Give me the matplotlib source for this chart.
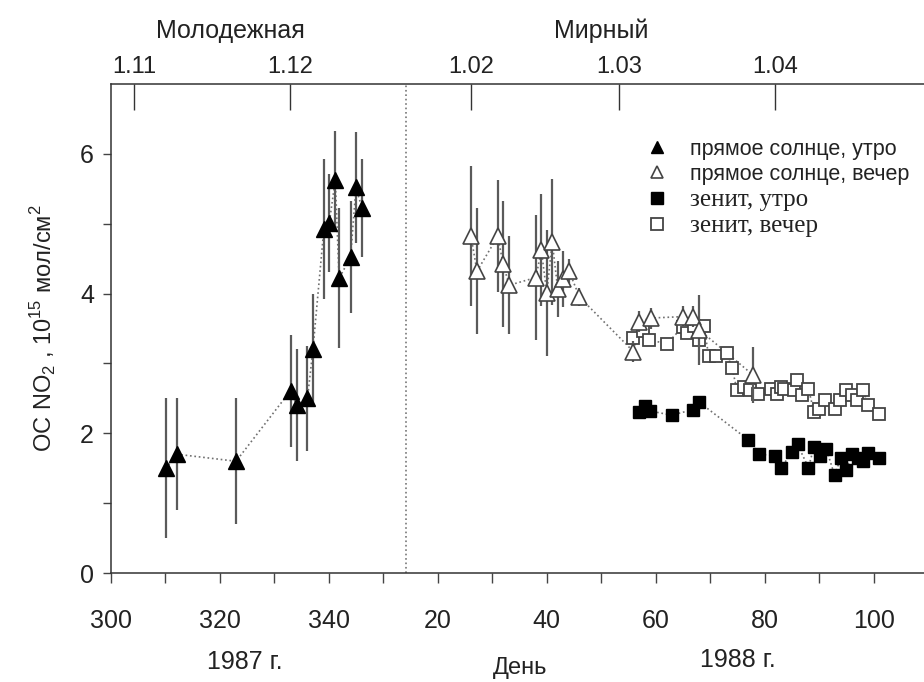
import matplotlib.pyplot as plt
from matplotlib.lines import Line2D
from matplotlib.ticker import MultipleLocator, FixedLocator

plt.rcParams['font.family'] = ['Liberation Sans', 'DejaVu Sans']
plt.rcParams['mathtext.fontset'] = 'custom'
plt.rcParams['mathtext.rm'] = 'Liberation Sans'

# Molodezhnaya, 1987 (day of year), direct sun, morning
day87 = [310.1, 312.2, 323.0, 333.0, 334.1, 336.1, 337.1, 339.1, 340.1, 341.2, 341.9, 344.0, 345.0, 346.1]
sun_am = [1.50, 1.70, 1.60, 2.61, 2.40, 2.50, 3.20, 4.92, 5.01, 5.63, 4.22, 4.52, 5.52, 5.22]
sun_am_err = [1.0, 0.8, 0.9, 0.8, 0.8, 0.75, 0.8, 1.0, 0.7, 0.7, 1.0, 0.8, 0.8, 0.7]

# Mirny, 1988 (day of year), direct sun, evening
day_sun_pm = [26.1, 27.2, 31.0, 32.0, 33.1, 38.0, 39.0, 40.0, 41.0, 42.0, 43.0, 44.1, 46.0,
              55.9, 57.0, 59.1, 64.9, 66.9, 68.0, 77.9]
sun_pm = [4.82, 4.32, 4.82, 4.42, 4.12, 4.23, 4.62, 4.01, 4.74, 4.07, 4.21, 4.32, 3.95,
          3.17, 3.60, 3.65, 3.67, 3.67, 3.48, 2.83]
sun_pm_err = [1.0, 0.9, 0.8, 0.9, 0.7, 0.9, 0.8, 0.9, 0.9, 0.4, 0.4, 0.17, 0.13,
              0.15, 0.15, 0.15, 0.15, 0.15, 0.5, 0.4]

# Mirny, 1988, zenith, morning
day_zen_am = [57.0, 58.0, 58.9, 62.9, 66.9, 67.9, 76.9, 79.0, 81.9, 83.0, 85.0, 86.0,
              88.0, 89.0, 90.1, 91.3, 92.8, 93.9, 94.9, 96.0, 97.1, 98.1, 99.0, 101.0]
zen_am = [2.31, 2.39, 2.32, 2.26, 2.34, 2.45, 1.91, 1.70, 1.68, 1.51, 1.73, 1.84,
          1.51, 1.80, 1.68, 1.77, 1.40, 1.64, 1.48, 1.70, 1.65, 1.61, 1.72, 1.65]

# Mirny, 1988, zenith, evening
day_zen_pm = [55.9, 57.7, 58.8, 62.0, 64.9, 65.8, 67.0, 67.9, 68.8, 69.7, 71.0, 73.0,
              74.0, 74.9, 76.1, 77.3, 78.8, 81.1, 82.2, 82.9, 83.5, 85.3, 85.9, 86.8,
              88.0, 89.0, 90.0, 91.1, 92.9, 93.8, 94.9, 96.0, 96.9, 98.0, 99.0, 100.9]
zen_pm = [3.36, 3.46, 3.34, 3.28, 3.52, 3.43, 3.54, 3.34, 3.54, 3.11, 3.11, 3.15,
          2.93, 2.62, 2.67, 2.62, 2.56, 2.64, 2.56, 2.67, 2.64, 2.62, 2.76, 2.55,
          2.64, 2.31, 2.35, 2.48, 2.35, 2.47, 2.62, 2.55, 2.47, 2.62, 2.40, 2.28]

bottom_ticks = [300, 320, 340, 360, 380, 400, 420, 440]
bottom_labels = ['300', '320', '340', '20', '40', '60', '80', '100']
top_ticks = [304.3, 332.9, 366.1, 393.3, 421.9]
top_labels = ['1.11', '1.12', '1.02', '1.03', '1.04']
legend_labels = ['прямое солнце, утро', 'прямое солнце, вечер', 'зенит, утро', 'зенит, вечер']

OFFSET = 340      # 1988 day d sits at d + 340 on the running axis
BREAK = 354.2     # dotted separator between the two stations

def shift(days):
    return [d + OFFSET for d in days]

GRAY = '#5a5a5a'
DOT = '#707070'
TXT = '#222222'

fig = plt.figure(figsize=(9.24, 6.82), dpi=100)
ax = fig.add_axes([0.1198, 0.1598, 0.8802, 0.717])

# 1987 filled triangles
ax.plot(day87, sun_am, ls=':', color=DOT, lw=1.2, zorder=1)
ax.errorbar(day87, sun_am, yerr=sun_am_err, fmt='none', ecolor=GRAY, elinewidth=1.6, capsize=0, zorder=2)
ax.plot(day87, sun_am, ls='none', marker='^', ms=11, mfc='black', mec='black', zorder=3)

# zenith evening, open squares
x = shift(day_zen_pm)
ax.plot(x, zen_pm, ls=':', color=DOT, lw=1.2, zorder=1)
ax.plot(x, zen_pm, ls='none', marker='s', ms=9, mfc='white', mec='#444444', mew=1.3, zorder=3)

# zenith morning, filled squares
x = shift(day_zen_am)
ax.plot(x, zen_am, ls=':', color=DOT, lw=1.2, zorder=1)
ax.plot(x, zen_am, ls='none', marker='s', ms=9, mfc='black', mec='black', zorder=3)

# direct sun evening, open triangles
x = shift(day_sun_pm)
ax.plot(x, sun_pm, ls=':', color=DOT, lw=1.2, zorder=1)
ax.errorbar(x, sun_pm, yerr=sun_pm_err, fmt='none', ecolor=GRAY, elinewidth=1.6, capsize=0, zorder=4)
ax.plot(x, sun_pm, ls='none', marker='^', ms=11, mfc='white', mec='#444444', mew=1.2, zorder=5)

ax.axvline(BREAK, ls=':', color='#777777', lw=1.2, zorder=0)

ax.set_xlim(300, 449.2)
ax.set_ylim(0, 7)
ax.set_xticks(bottom_ticks)
ax.set_xticklabels(bottom_labels)
ax.xaxis.set_minor_locator(MultipleLocator(10))
ax.set_yticks([0, 2, 4, 6])
ax.yaxis.set_minor_locator(FixedLocator([1, 3, 5]))
ax.tick_params(axis='x', which='both', direction='out', length=7, width=1, color='#444444',
               labelsize=18, labelcolor=TXT, pad=19)
ax.tick_params(axis='y', which='both', direction='out', length=6, width=1, color='#444444',
               labelsize=18, labelcolor=TXT, pad=6)
for side in ['left', 'bottom', 'top']:
    ax.spines[side].set_color('#333333')
    ax.spines[side].set_linewidth(1.1)
ax.spines['right'].set_visible(False)

ax.set_ylabel('ОС NO$_2$ , 10$^{15}$ мол/см$^2$', fontsize=17, color=TXT)
ax.yaxis.set_label_coords(-0.064, 0.5)

top = ax.twiny()
top.set_xlim(ax.get_xlim())
top.set_xticks(top_ticks)
top.set_xticklabels(top_labels)
top.tick_params(axis='x', direction='in', length=19, width=1, color='#333333',
                labelsize=17, labelcolor=TXT, pad=4)
for side in ['left', 'bottom', 'right', 'top']:
    top.spines[side].set_visible(False)

fig.text(230 / 924, 1 - 31 / 682, 'Молодежная', fontsize=18, color=TXT, ha='center', va='center')
fig.text(601 / 924, 1 - 31 / 682, 'Мирный', fontsize=18, color=TXT, ha='center', va='center')
fig.text(245 / 924, 1 - 662 / 682, '1987 г.', fontsize=18, color=TXT, ha='center', va='center')
fig.text(520 / 924, 1 - 668 / 682, 'День', fontsize=17, color=TXT, ha='center', va='center')
fig.text(738 / 924, 1 - 660 / 682, '1988 г.', fontsize=18, color=TXT, ha='center', va='center')

handles = [
    Line2D([], [], ls='none', marker='^', ms=9, mfc='black', mec='black'),
    Line2D([], [], ls='none', marker='^', ms=9, mfc='white', mec='#444444', mew=1.2),
    Line2D([], [], ls='none', marker='s', ms=8, mfc='black', mec='black'),
    Line2D([], [], ls='none', marker='s', ms=8, mfc='white', mec='#444444', mew=1.3),
]
leg = ax.legend(handles, legend_labels, loc='upper left', bbox_to_anchor=(646 / 924, 1 - 139 / 682),
                bbox_transform=fig.transFigure, frameon=False, fontsize=15.5, handlelength=1,
                handletextpad=1.05, labelspacing=0.18, borderpad=0, borderaxespad=0)
for t in leg.get_texts():
    t.set_color(TXT)
for t in leg.get_texts()[2:]:
    t.set_family(['Liberation Serif', 'DejaVu Serif'])
    t.set_fontsize(18)

fig.savefig('out.png', dpi=100)
